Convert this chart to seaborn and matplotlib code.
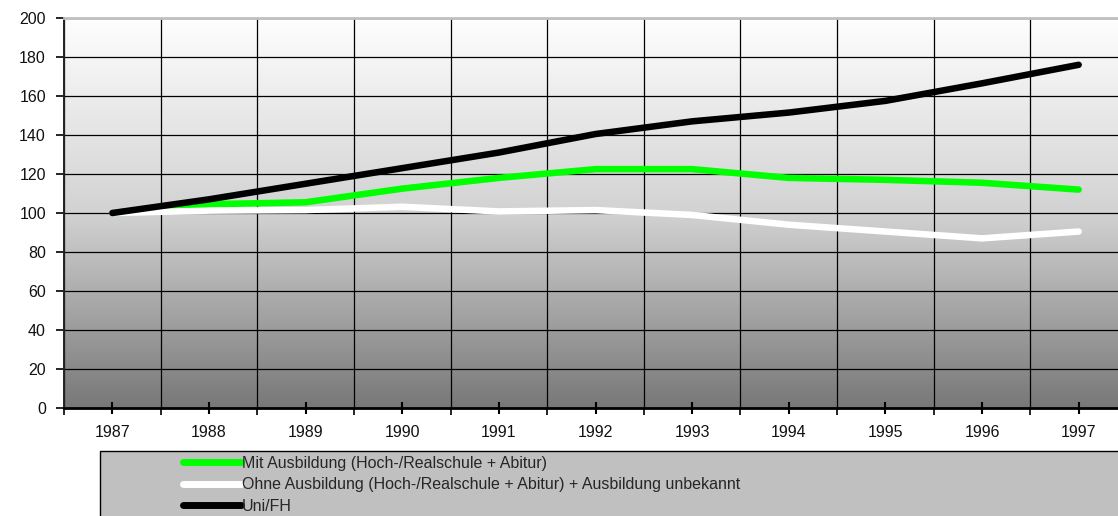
import matplotlib
matplotlib.use("Agg")
import matplotlib.pyplot as plt
import numpy as np
import pandas as pd
import seaborn as sns
from matplotlib.colors import LinearSegmentedColormap
from matplotlib.patches import Rectangle
from matplotlib.ticker import FixedLocator

# Index 1987 = 100
YEARS = [1987, 1988, 1989, 1990, 1991, 1992, 1993, 1994, 1995, 1996, 1997]
MIT_AUSBILDUNG = [100, 104.5, 105.5, 112.5, 118, 122.5, 122.5, 118, 117, 115.5, 112]
OHNE_AUSBILDUNG = [100, 101.2, 101.5, 103.2, 100.8, 101.5, 99, 94, 90.5, 87, 90.5]
UNI_FH = [100, 107, 115, 123, 131, 140.5, 147, 151.5, 157.5, 166.5, 176]

SERIES = [
    "Mit Ausbildung (Hoch-/Realschule + Abitur)",
    "Ohne Ausbildung (Hoch-/Realschule + Abitur) + Ausbildung unbekannt",
    "Uni/FH",
]
COLORS = ["#00ff00", "#ffffff", "#000000"]

sns.set_theme(style="white")
plt.rcParams["font.family"] = ["Liberation Sans", "DejaVu Sans"]

df = pd.DataFrame({
    "Jahr": YEARS * 3,
    "Wert": MIT_AUSBILDUNG + OHNE_AUSBILDUNG + UNI_FH,
    "Gruppe": [SERIES[0]] * 11 + [SERIES[1]] * 11 + [SERIES[2]] * 11,
})

W, H = 1118, 516
fig = plt.figure(figsize=(W / 100, H / 100), dpi=100)
fig.patch.set_facecolor("white")

left, right, top, bottom = 64, 1127, 18, 408
ax = fig.add_axes([left / W, 1 - bottom / H, (right - left) / W, (bottom - top) / H])

# gradient background
grad = np.linspace(0, 1, 256).reshape(-1, 1)
cmap = LinearSegmentedColormap.from_list("bg", ["#fefefe", "#d2d2d2", "#787878"])
ax.imshow(grad, cmap=cmap, aspect="auto", extent=[0, 1, 0, 1],
          transform=ax.transAxes, zorder=0, origin="upper")

sns.lineplot(data=df, x="Jahr", y="Wert", hue="Gruppe", palette=COLORS,
             hue_order=SERIES, linewidth=4.7, ax=ax, zorder=3,
             legend=True)
for ln in ax.get_lines():
    ln.set_solid_capstyle("round")
    ln.set_solid_joinstyle("round")

handles, labels = ax.get_legend_handles_labels()
ax.get_legend().remove()

ax.set_xlim(1986.5, 1997.5)
ax.set_ylim(0, 200)
ax.set_xlabel("")
ax.set_ylabel("")

# year boundaries as major ticks (grid), years as minor ticks (labels)
bounds = [y - 0.5 for y in YEARS] + [YEARS[-1] + 0.5]
ax.xaxis.set_major_locator(FixedLocator(bounds))
ax.xaxis.set_minor_locator(FixedLocator(YEARS))
ax.set_xticklabels([], minor=False)
ax.set_xticklabels([str(y) for y in YEARS], minor=True)
ax.set_yticks(range(0, 201, 20))

ax.tick_params(axis="x", which="major", direction="out", length=5, width=1.2,
               color="black", bottom=True)
ax.tick_params(axis="x", which="minor", direction="inout", length=8, width=1.5,
               color="black", bottom=True, labelsize=11.5, pad=8,
               labelcolor="#111111")
ax.tick_params(axis="y", direction="out", length=6, width=1.2, color="black",
               left=True, labelsize=11.5, pad=7, labelcolor="#111111")

ax.grid(True, which="major", color="black", linewidth=0.9, zorder=1)
ax.set_axisbelow(True)

ax.spines["right"].set_visible(False)
ax.spines["top"].set_color("#c0c0c0")
ax.spines["top"].set_linewidth(2)
ax.spines["left"].set_color("#222222")
ax.spines["left"].set_linewidth(1.4)
ax.spines["bottom"].set_color("black")
ax.spines["bottom"].set_linewidth(2)
ax.spines["bottom"].set_zorder(4)

# legend box
fig.patches.append(Rectangle((100 / W, -0.02), 1.05, (516 - 451) / H + 0.02,
                             transform=fig.transFigure, facecolor="#c0c0c0",
                             edgecolor="black", linewidth=1.0, zorder=0))
leg = fig.legend(handles, labels, loc="upper left",
                 bbox_to_anchor=(183 / W, 1 - 456 / H), frameon=False,
                 fontsize=11.5, handlelength=3.6, handletextpad=0.08,
                 labelspacing=0.4, borderaxespad=0, borderpad=0)
for ln in leg.get_lines():
    ln.set_linewidth(5)
    ln.set_solid_capstyle("round")

fig.savefig("out.png", dpi=100)
